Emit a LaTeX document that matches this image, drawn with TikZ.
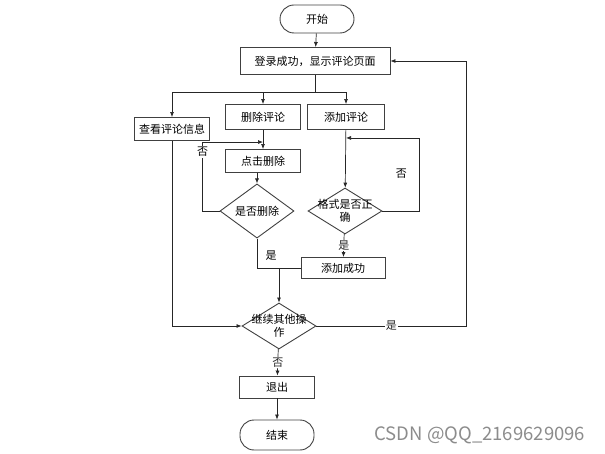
\documentclass[tikz,border=0pt]{standalone}
\usepackage{fontspec}
\newfontfamily\cjk{Noto Sans CJK SC}
\usetikzlibrary{arrows.meta,positioning,shapes.geometric,calc}

\begin{document}
\begin{tikzpicture}[x=1pt,y=-1pt,font=\cjk\fontsize{11}{12.5}\selectfont,
  box/.style={draw=black!75,line width=0.9pt,minimum width=75pt,minimum height=24pt,inner sep=2pt},
  term/.style={draw=black!75,line width=0.9pt,rounded corners=14pt,minimum width=74pt,minimum height=28pt},
  dec/.style={draw=black!75,line width=0.9pt,diamond,minimum width=74pt,minimum height=46pt,inner sep=0pt,align=center},
  lbl/.style={fill=white,inner sep=1pt},
  arr/.style={-{Latex[length=5pt,width=4pt]},line width=0.7pt,black!85}]
\useasboundingbox (0,0) rectangle (605,454);
% nodes
\node[term] (start) at (317,19) {开始};
\node[box,minimum width=150pt,minimum height=27pt] (show) at (315,61) {登录成功，显示评论页面};
\node[box,minimum height=23pt] (view) at (172,129) {查看评论信息};
\node[box,minimum height=25pt] (del) at (263,117) {删除评论};
\node[box,minimum width=77pt,minimum height=25pt] (add) at (346,117) {添加评论};
\node[box,minimum height=23pt] (click) at (263,161) {点击删除};
\node[dec] (isdel) at (257,211) {是否删除};
\node[dec] (fmt) at (345,211) {\makebox[0pt]{格式是否正}\\确};
\node[box,minimum width=84pt,minimum height=21pt] (ok) at (343,268) {添加成功};
\node[dec] (more) at (279,326) {\makebox[0pt]{继续其他操}\\作};
\node[box,minimum height=22pt] (quit) at (277,387) {退出};
\node[term,minimum height=30pt] (end) at (277,435) {结束};
% connectors
\draw[arr] (start) -- (show);
\coordinate (split) at ($(show.south)+(0,17)$);
\draw[line width=0.7pt,black!85] (show.south) -- (split);
\draw[arr] (split) -| (view.north);
\draw[arr] (split) -| (del.north);
\draw[arr] (split) -| (add.north);
\draw[arr] (del) -- (click);
\draw[arr] (click.south -| isdel.north) -- (isdel.north);
\coordinate (noret) at ($(click.north)+(0,-7)$);
\draw[arr] (isdel.west) -- ++(-17,0) coordinate (nocorner) |- (noret);
\node[lbl] (no1) at ($(nocorner |- noret)+(0,10)$) {否};
\draw[line width=0.7pt,black!85] (isdel.south) |- (ok.west);
\node[anchor=west] (yes1) at ($(isdel.south)+(5,17)$) {是};
\draw[arr] (more.north |- ok.west) -- (more.north);
\draw[arr] (add) -- (fmt);
\coordinate (addret) at ($(add.south)+(0,8)$);
\draw[arr] (fmt.east) -- ++(37,0) |- (addret);
\node (no2) at ($(fmt.east)+(19,-37)$) {否};
\draw[arr] (fmt) -- node[lbl]{是} (ok);
\draw[arr] (view.south) |- (more.west);
\draw[arr] (more.east) -- node[lbl]{是} ++(150,0) |- (show.east);
\draw[arr] (more) -- node[lbl]{否} (quit);
\draw[arr] (quit) -- (end);
\node[anchor=west,text=black!45,font=\cjk\fontsize{18.5}{20}\selectfont] (mark) at (371,435) {CSDN @QQ\_2169629096};
\end{tikzpicture}
\end{document}
